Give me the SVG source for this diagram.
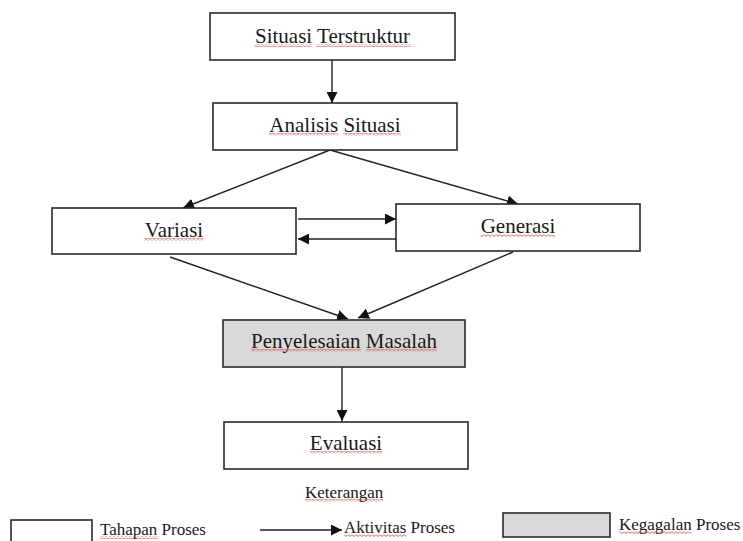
<svg xmlns="http://www.w3.org/2000/svg" width="743" height="541" viewBox="0 0 743 541">
<style>
.box{fill:#fff;stroke:#2a2a2a;stroke-width:1.6}
.fail{fill:#d9d9d9;stroke:#2a2a2a;stroke-width:1.6}
.t{font-family:"Liberation Serif","Times New Roman",serif;font-size:21px;fill:#1a1a1a;text-anchor:middle}
.l{font-family:"Liberation Serif","Times New Roman",serif;font-size:17px;fill:#1a1a1a}
.c{stroke:#222;stroke-width:1.4;fill:none;marker-end:url(#ah)}
.w{fill:url(#wave)}
</style>
<defs>
<marker id="ah" markerUnits="userSpaceOnUse" markerWidth="11" markerHeight="11" refX="11" refY="5.5" orient="auto">
<path d="M0,0 L11,5.5 L0,11 z" fill="#111"/>
</marker>
<pattern id="wave" patternUnits="userSpaceOnUse" width="4" height="3">
<path d="M0,0.5 L2,2.5 L4,0.5" stroke="#d42020" stroke-width="0.8" fill="none"/>
</pattern>
</defs>
<rect width="743" height="541" fill="#fff"/>
<g id="connectors">
<line class="c" x1="332" y1="60" x2="332" y2="103"/>
<line class="c" x1="330" y1="150" x2="183" y2="208"/>
<line class="c" x1="330" y1="150" x2="518" y2="204"/>
<line class="c" x1="298" y1="219" x2="396" y2="219"/>
<line class="c" x1="396" y1="239" x2="298" y2="239"/>
<line class="c" x1="170" y1="257" x2="348" y2="319"/>
<line class="c" x1="513" y1="252" x2="358" y2="318"/>
<line class="c" x1="342" y1="367" x2="342" y2="421"/>
</g>
<g id="n1">
<rect class="box" x="210" y="13" width="245" height="47"/>
<text class="t" x="332.5" y="43">Situasi Terstruktur</text>
<rect class="w" x="254" y="44" width="57" height="3"/>
<rect class="w" x="316" y="44" width="95" height="3"/>
</g>
<g id="n2">
<rect class="box" x="213" y="103" width="244" height="47"/>
<text class="t" x="335" y="132">Analisis Situasi</text>
<rect class="w" x="269" y="133" width="69" height="3"/>
<rect class="w" x="343" y="133" width="58" height="3"/>
</g>
<g id="n3">
<rect class="box" x="52" y="208" width="244" height="46"/>
<text class="t" x="174" y="237">Variasi</text>
<rect class="w" x="144" y="238" width="60" height="3"/>
</g>
<g id="n4">
<rect class="box" x="396" y="204" width="244" height="47"/>
<text class="t" x="518" y="233">Generasi</text>
<rect class="w" x="481" y="234" width="74" height="3"/>
</g>
<g id="n5">
<rect class="fail" x="223" y="320" width="242" height="47"/>
<text class="t" x="344" y="348">Penyelesaian Masalah</text>
<rect class="w" x="251" y="349" width="110" height="3"/>
<rect class="w" x="366" y="349" width="71" height="3"/>
</g>
<g id="n6">
<rect class="box" x="224" y="422" width="244" height="47"/>
<text class="t" x="346" y="450">Evaluasi</text>
<rect class="w" x="310" y="451" width="72" height="3"/>
</g>
<g id="legend">
<text class="l" x="305" y="498">Keterangan</text>
<rect class="w" x="305" y="499" width="78" height="3"/>
<rect class="box" x="11" y="520" width="81" height="30"/>
<text class="l" x="100" y="535">Tahapan Proses</text>
<rect class="w" x="100" y="536" width="58" height="3"/>
<line class="c" x1="260" y1="530" x2="342" y2="530"/>
<text class="l" x="344" y="533">Aktivitas Proses</text>
<rect class="w" x="344" y="534" width="62" height="3"/>
<rect class="fail" x="503" y="513" width="107" height="24"/>
<text class="l" x="619" y="530">Kegagalan Proses</text>
<rect class="w" x="619" y="531" width="72" height="3"/>
</g>
</svg>
